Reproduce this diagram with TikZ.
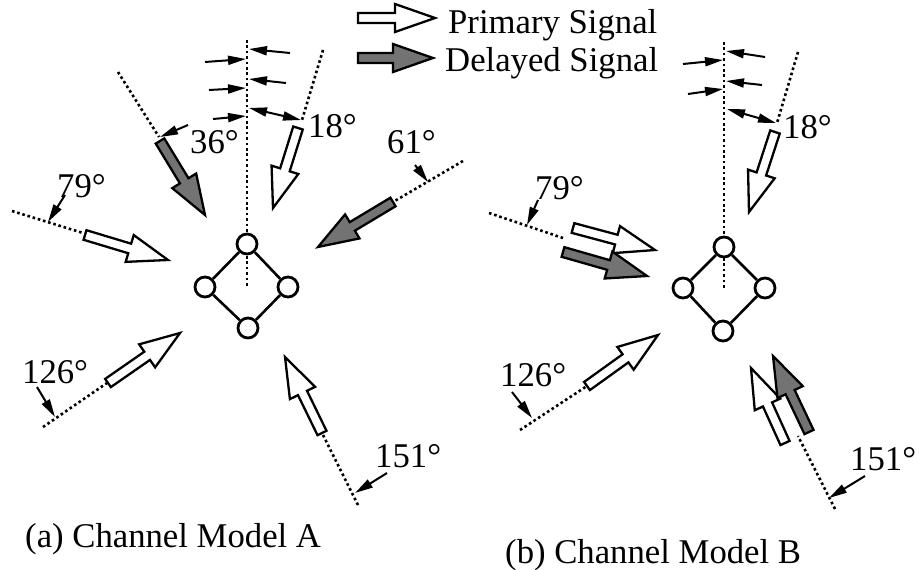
\documentclass[tikz,border=0pt]{standalone}
\usepackage{fontspec}
\setmainfont{Liberation Serif}
\usetikzlibrary{arrows.meta,calc}
\newcommand\fasw{5pt}
\newcommand\fahw{14pt}
\newcommand\fahl{40pt}
% #1 style, #2 start (shaft end), #3 tip
\newcommand\fatarrow[3]{%
  \coordinate (fah) at ($(#3)!\fahl!(#2)$);
  \draw[#1] ($(#2)!\fasw!90:(#3)$) -- ($(fah)!\fasw!90:(#3)$) -- ($(fah)!\fahw!90:(#3)$)
    -- (#3) -- ($(fah)!\fahw!-90:(#3)$) -- ($(fah)!\fasw!-90:(#3)$)
    -- ($(#2)!\fasw!-90:(#3)$) -- cycle;}
\begin{document}
\begin{tikzpicture}[x=1pt,y=-1pt,
  lbl/.style={font=\fontsize{34.7}{40}\selectfont, inner sep=0, anchor=base west},
  dots/.style={line width=2.6pt, dash pattern=on 2.6pt off 2.8pt},
  thin/.style={line width=2pt, -{Triangle[length=18pt,width=9pt]}},
  thinboth/.style={line width=2pt, {Triangle[length=18pt,width=9pt]}-{Triangle[length=18pt,width=9pt]}},
  ant/.style={circle, draw, line width=2.8pt, fill=white, minimum size=20pt, inner sep=0},
  wire/.style={line width=2.6pt},
  prim/.style={draw, line width=2.3pt, fill=white, line join=miter},
  del/.style={draw, line width=2.3pt, fill=black!55, line join=miter}]
\useasboundingbox (0,0) rectangle (919,570);

% ---------- legend ----------
\fatarrow{prim}{358,18}{435,18}
\fatarrow{del}{358,58}{433,58}
\node[lbl] (lp) at (448,33) {Primary Signal};
\node[lbl] (ld) at (445,71) {Delayed Signal};

% ---------- panel A ----------
\draw[dots] (247,40) -- (247,286);
\draw[dots] (323,50) -- (302,120);
\draw[dots] (118,72) -- (159,137);
\draw[dots] (463,161) -- (393,202);
\draw[dots] (12,211) -- (83,233);
\draw[dots] (43,427) -- (107,383);
\draw[dots] (358,505) -- (322,433);

\draw[thin] (205,62) -- (246,59);
\draw[thin] (209,90) -- (246,88);
\draw[thin] (213,119) -- (246,116);
\draw[thin] (290,53) -- (249,49);
\draw[thin] (286,83) -- (249,79);
\draw[thinboth] (249,108) -- (301,120);
\draw[thin] (188,125) -- (160,137);
\draw[thin] (415,165) -- (428,182);
\draw[thin] (65,195) -- (48,222);
\draw[thin] (37,387) -- (55,417);
\draw[thin] (387,473) -- (355,493);

\fatarrow{del}{160,141}{205,215}
\fatarrow{prim}{298,128}{273,208}
\fatarrow{del}{393,202}{318,247}
\fatarrow{prim}{85,235}{168,260}
\fatarrow{prim}{108,383}{180,333}
\fatarrow{prim}{322,433}{285,357}

\node[ant] (at) at (247,244) {};
\node[ant] (al) at (205,287) {};
\node[ant] (ar) at (288,287) {};
\node[ant] (ab) at (248,328) {};
\draw[wire] (at) -- (al) (al) -- (ab) (ab) -- (ar) (ar) -- (at);

\node[lbl] (a18) at (308,137) {18°};
\node[lbl] (a36) at (190,153) {36°};
\node[lbl] (a61) at (387,153) {61°};
\node[lbl] (a79) at (57,197) {79°};
\node[lbl] (a126) at (22,383) {126°};
\node[lbl] (a151) at (375,467) {151°};
\node[lbl] (capa) at (25,547) {(a) Channel Model A};

% ---------- panel B ----------
\draw[dots] (724,42) -- (724,289);
\draw[dots] (798,52) -- (777,123);
\draw[dots] (489,213) -- (563,238);
\draw[dots] (520,430) -- (587,386);
\draw[dots] (835,509) -- (798,436);

\draw[thin] (683,64) -- (723,60);
\draw[thin] (688,94) -- (723,89);
\draw[thin] (765,57) -- (726,51);
\draw[thin] (762,85) -- (726,81);
\draw[thinboth] (727,109) -- (776,123);
\draw[thin] (538,200) -- (527,225);
\draw[thin] (512,392) -- (532,418);
\draw[thin] (865,476) -- (829,498);

\fatarrow{prim}{775,132}{749,212}
\fatarrow{prim}{573,228}{655,250}
\fatarrow{del}{563,252}{647,276}
\fatarrow{prim}{587,386}{658,335}
\fatarrow{prim}{785,443}{751,368}
\fatarrow{del}{809,432}{773,356}

\node[ant] (bt) at (724,247) {};
\node[ant] (bl) at (683,288) {};
\node[ant] (br) at (765,288) {};
\node[ant] (bb) at (723,331) {};
\draw[wire] (bt) -- (bl) (bl) -- (bb) (bb) -- (br) (br) -- (bt);

\node[lbl] (b18) at (783,138) {18°};
\node[lbl] (b79) at (535,199) {79°};
\node[lbl] (b126) at (500,386) {126°};
\node[lbl] (b151) at (850,470) {151°};
\node[lbl] (capb) at (505,563) {(b) Channel Model B};
\end{tikzpicture}
\end{document}
